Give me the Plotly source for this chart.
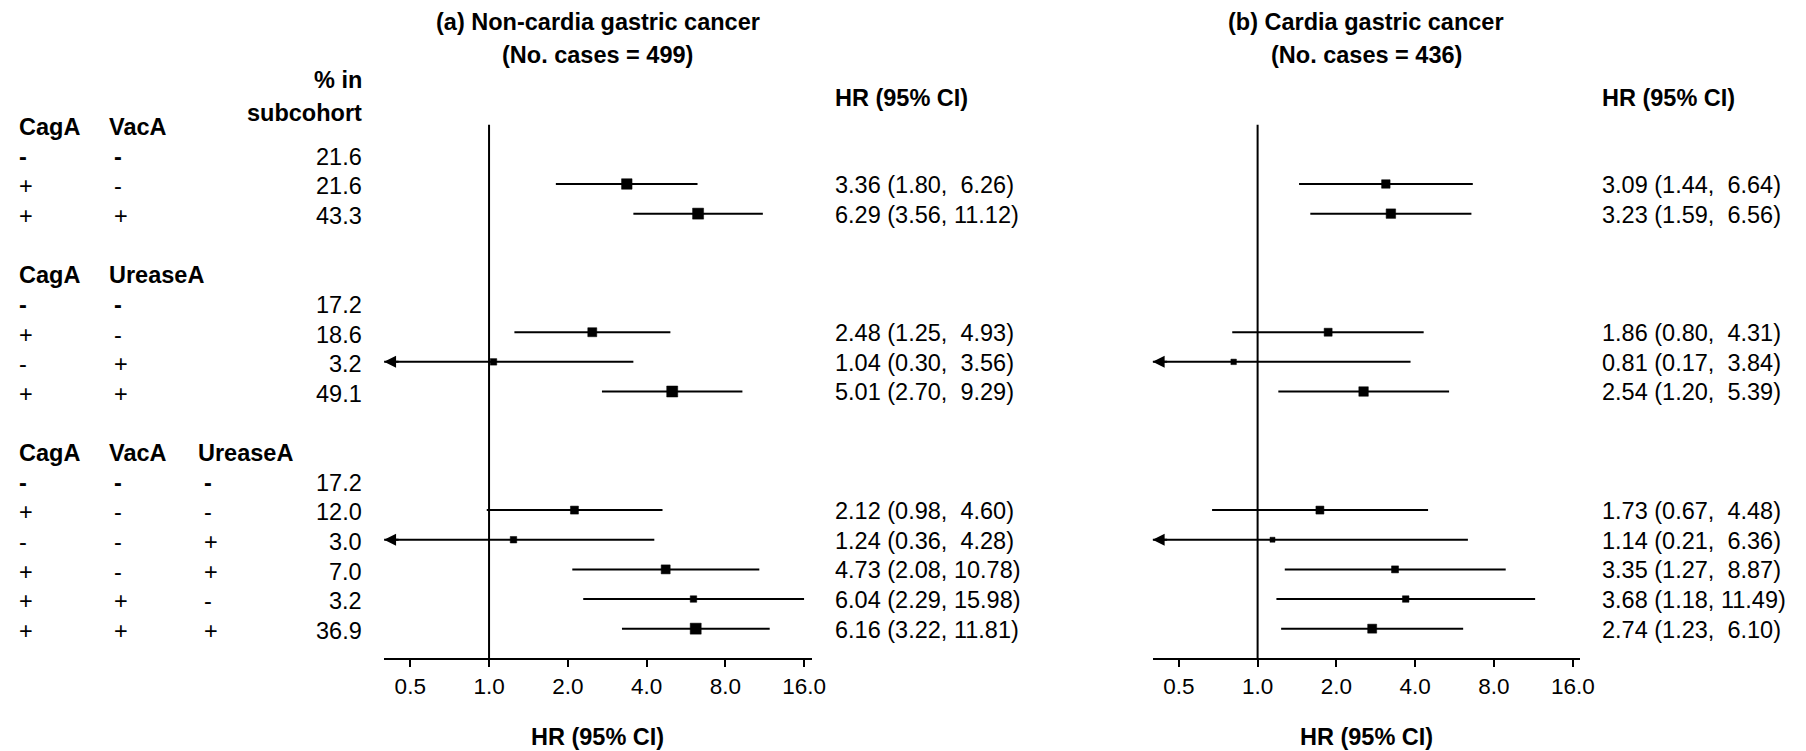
import math
import plotly.graph_objects as go

W, H = 1806, 751

# ---------------- data ----------------
group_headers = [["CagA", "VacA"], ["CagA", "UreaseA"], ["CagA", "VacA", "UreaseA"]]
group_signs = [
    [["-", "-"], ["+", "-"], ["+", "+"]],
    [["-", "-"], ["+", "-"], ["-", "+"], ["+", "+"]],
    [["-", "-", "-"], ["+", "-", "-"], ["-", "-", "+"], ["+", "-", "+"], ["+", "+", "-"], ["+", "+", "+"]],
]
pct_subcohort = [[21.6, 21.6, 43.3], [17.2, 18.6, 3.2, 49.1], [17.2, 12.0, 3.0, 7.0, 3.2, 36.9]]

noncardia_hr = [[None, 3.36, 6.29], [None, 2.48, 1.04, 5.01], [None, 2.12, 1.24, 4.73, 6.04, 6.16]]
noncardia_lo = [[None, 1.80, 3.56], [None, 1.25, 0.30, 2.70], [None, 0.98, 0.36, 2.08, 2.29, 3.22]]
noncardia_hi = [[None, 6.26, 11.12], [None, 4.93, 3.56, 9.29], [None, 4.60, 4.28, 10.78, 15.98, 11.81]]

cardia_hr = [[None, 3.09, 3.23], [None, 1.86, 0.81, 2.54], [None, 1.73, 1.14, 3.35, 3.68, 2.74]]
cardia_lo = [[None, 1.44, 1.59], [None, 0.80, 0.17, 1.20], [None, 0.67, 0.21, 1.27, 1.18, 1.23]]
cardia_hi = [[None, 6.64, 6.56], [None, 4.31, 3.84, 5.39], [None, 4.48, 6.36, 8.87, 11.49, 6.10]]

tick_vals = [0.5, 1, 2, 4, 8, 16]
tick_text = ["0.5", "1.0", "2.0", "4.0", "8.0", "16.0"]
panel_title1 = ["(a) Non-cardia gastric cancer", "(b) Cardia gastric cancer"]
panel_title2 = ["(No. cases = 499)", "(No. cases = 436)"]
ref_value = 1.0

# ---------------- styles (marker sizes ~ study weight) ----------------
noncardia_msize = [[0, 10.5, 11], [0, 9, 6.5, 11], [0, 8, 6.5, 9, 6.5, 11]]
cardia_msize = [[0, 8.5, 9.5], [0, 8, 5.5, 9.5], [0, 8, 5, 7, 6.5, 9]]

FONT = "Arial, 'Liberation Sans', sans-serif"
FS = 23.5
XRANGE = [-0.401, 1.232]
AXIS_Y = 658.3
ROW0 = 124.7
ROWH = 29.645
YMAX = (AXIS_Y - ROW0) / ROWH
YMIN = -ROW0 / ROWH


def px(x):
    return x / W


def py(y):
    return 1 - y / H


# row index layout
row_index = []
r = 0
for g in group_signs:
    rows = []
    for _ in g:
        rows.append(r + 1)
        r += 1
    row_index.append(rows)
    r += 2
header_rows = [rows[0] - 1 for rows in row_index]

fig = go.Figure()
annotations = []


def txt(x, y, s, bold=False, anchor="left", size=FS, yref="y"):
    annotations.append(dict(
        x=x, y=y, xref="paper", yref=yref, text=("<b>%s</b>" % s) if bold else s,
        showarrow=False, xanchor=anchor, yanchor="middle",
        font=dict(family=FONT, size=size, color="black")))


# ---------- left table ----------
hdr_x = [17, 108, 198]
sign_x = [17, 113, 204]
for gi, hdrs in enumerate(group_headers):
    for ci, h in enumerate(hdrs):
        txt(px(hdr_x[ci]), header_rows[gi] + 0.08, h, bold=True)
    for ri, signs in enumerate(group_signs[gi]):
        yy = row_index[gi][ri] + 0.08
        for ci, s in enumerate(signs):
            txt(px(sign_x[ci]), yy, s, bold=(ri == 0))
        txt(px(367), yy, "%.1f" % pct_subcohort[gi][ri], anchor="right")
txt(px(367), py(80), "% in", bold=True, anchor="right", yref="paper")
txt(px(367), py(113), "subcohort", bold=True, anchor="right", yref="paper")

# ---------- panels ----------
panels = [
    dict(hr=noncardia_hr, lo=noncardia_lo, hi=noncardia_hi, ms=noncardia_msize,
         dom=[387.3, 818.3], xa="x", txt_x=840),
    dict(hr=cardia_hr, lo=cardia_lo, hi=cardia_hi, ms=cardia_msize,
         dom=[1162.3, 1593.3], xa="x2", txt_x=1613),
]
xmin_val = 10 ** XRANGE[0]

for pi, p in enumerate(panels):
    lx, ly, mx, my, msz = [], [], [], [], []
    for gi in range(len(p["hr"])):
        for ri, hr in enumerate(p["hr"][gi]):
            if hr is None:
                continue
            yy = row_index[gi][ri]
            lo, hi = p["lo"][gi][ri], p["hi"][gi][ri]
            lx += [max(lo, xmin_val), hi, None]
            ly += [yy, yy, None]
            mx.append(hr)
            my.append(yy)
            msz.append(p["ms"][gi][ri])
            if lo < xmin_val:
                annotations.append(dict(
                    x=XRANGE[0], y=yy, xref=p["xa"], yref="y", text="",
                    showarrow=True, arrowhead=2, arrowsize=1.2, arrowwidth=2,
                    arrowcolor="black", ax=16, ay=0, standoff=0))
            hs = ("%.2f" % hi)
            if hi < 10:
                hs = "\u00a0\u00a0" + hs
            else:
                hs = "\u00a0" + hs
            txt(px(p["txt_x"]), yy + 0.03, "%.2f (%.2f,%s)" % (hr, lo, hs))
    # reference line
    fig.add_trace(go.Scatter(x=[ref_value, ref_value], y=[0, YMAX], mode="lines",
                             line=dict(color="black", width=2), xaxis=p["xa"], yaxis="y",
                             showlegend=False, hoverinfo="skip", cliponaxis=False))
    fig.add_trace(go.Scatter(x=lx, y=ly, mode="lines", line=dict(color="black", width=2),
                             xaxis=p["xa"], yaxis="y", showlegend=False, hoverinfo="skip"))
    fig.add_trace(go.Scatter(x=mx, y=my, mode="markers",
                             marker=dict(symbol="square", size=msz, color="black",
                                         opacity=1, line=dict(width=0.5, color="black")),
                             xaxis=p["xa"], yaxis="y", showlegend=False, cliponaxis=False))
    cx = (p["dom"][0] + p["dom"][1]) / 2
    txt(px(cx), py(22), panel_title1[pi], bold=True, anchor="center", yref="paper")
    txt(px(cx), py(55), panel_title2[pi], bold=True, anchor="center", yref="paper")
    txt(px(cx), py(737), "HR (95% CI)", bold=True, anchor="center", yref="paper")
    txt(px(p["txt_x"]), py(98), "HR (95% CI)", bold=True, yref="paper")

axis_common = dict(
    type="log", range=XRANGE, showline=True, linewidth=2, linecolor="black",
    ticks="outside", ticklen=7, tickwidth=1.5, tickcolor="black",
    tickvals=tick_vals, ticktext=tick_text, showgrid=False, zeroline=False,
    tickfont=dict(family=FONT, size=22.5, color="black"), anchor="y", fixedrange=True,
)

fig.update_layout(
    width=W, height=H, margin=dict(l=0, r=0, t=0, b=0, pad=0),
    paper_bgcolor="white", plot_bgcolor="white",
    xaxis=dict(domain=[px(panels[0]["dom"][0]), px(panels[0]["dom"][1])], **axis_common),
    xaxis2=dict(domain=[px(panels[1]["dom"][0]), px(panels[1]["dom"][1])], **axis_common),
    yaxis=dict(domain=[(H - AXIS_Y) / H, 1], range=[YMAX, YMIN], visible=False,
               showgrid=False, zeroline=False, fixedrange=True),
    annotations=annotations,
    showlegend=False,
)

fig.write_html("out.html", config={"displayModeBar": False},
               post_script="document.body.style.margin='0';")
